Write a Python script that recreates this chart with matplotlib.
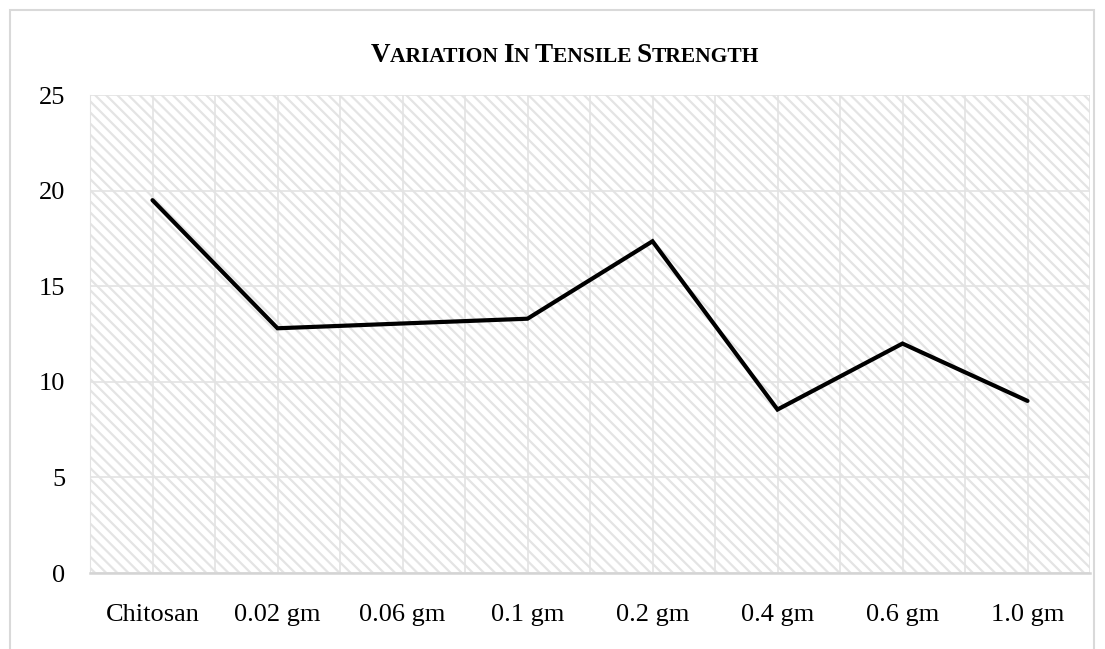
import matplotlib.pyplot as plt
import matplotlib.patches as mpatches
from matplotlib.offsetbox import TextArea, HPacker, AnchoredOffsetbox

plt.rcParams['font.family'] = ['Liberation Serif', 'DejaVu Serif']
plt.rcParams['hatch.linewidth'] = 1.6

# data
labels = ['Chitosan', '0.02 gm', '0.06 gm', '0.1 gm', '0.2 gm', '0.4 gm', '0.6 gm', '1.0 gm']
strength = [19.5, 12.8, 13.05, 13.3, 17.35, 8.55, 12.0, 9.0]
yticks = [0, 5, 10, 15, 20, 25]

fig = plt.figure(figsize=(11.05, 6.49), dpi=100)
ax = fig.add_axes([90 / 1105, 1 - 573 / 649, 1000 / 1105, 478 / 649])

# outer chart border
fig.patches.append(mpatches.Rectangle((10 / 1105, -0.05), 1084 / 1105, 1 - 10 / 649 + 0.05,
                                      transform=fig.transFigure, fill=False,
                                      edgecolor='#d9d9d9', linewidth=1.5))

# hatched plot area
ax.add_patch(mpatches.Rectangle((0, 0), 1, 1, transform=ax.transAxes, facecolor='white',
                                edgecolor='#e4e4e4', linewidth=0, hatch='\\\\\\', zorder=0))

x = range(len(labels))
ax.plot(x, strength, color='black', linewidth=3, solid_capstyle='round',
        solid_joinstyle='miter', zorder=3)

ax.set_xlim(-0.5, len(labels) - 0.5)
ax.set_ylim(0, 25)
ax.set_xticks(list(x))
ax.set_xticklabels(labels, fontsize=19)
ax.set_xticks([i - 0.5 for i in range(len(labels) + 1)], minor=True)
ax.set_yticks(yticks)
ax.set_yticklabels([str(v) for v in yticks], fontsize=19)
ax.tick_params(axis='both', which='both', length=0)
ax.tick_params(axis='x', pad=22)
ax.tick_params(axis='y', pad=18)

ax.grid(True, which='both', axis='x', color='#e3e3e3', linewidth=1.2, zorder=1)
ax.grid(True, which='major', axis='y', color='#e3e3e3', linewidth=1.2, zorder=1)
ax.set_axisbelow(True)
for s in ['top', 'right']:
    ax.spines[s].set_visible(False)
ax.spines['left'].set_color('#e3e3e3')
ax.spines['bottom'].set_color('#d4d4d4')
ax.spines['bottom'].set_linewidth(1.8)

# small-caps style title
words = ['Variation', 'In', 'Tensile', 'Strength']
parts = []
for i, w in enumerate(words):
    parts.append(TextArea(w[0], textprops=dict(fontsize=19.5, fontweight='bold', color='black')))
    parts.append(TextArea(w[1:].upper() + (' ' if i < len(words) - 1 else ''),
                          textprops=dict(fontsize=15.5, fontweight='bold', color='black')))
title = HPacker(children=parts, align='baseline', pad=0, sep=0)
anchored = AnchoredOffsetbox(loc='center', child=title, pad=0, frameon=False,
                             bbox_to_anchor=(565 / 1105, 1 - 55 / 649),
                             bbox_transform=fig.transFigure, borderpad=0)
fig.add_artist(anchored)

fig.savefig('out.png', dpi=100)
